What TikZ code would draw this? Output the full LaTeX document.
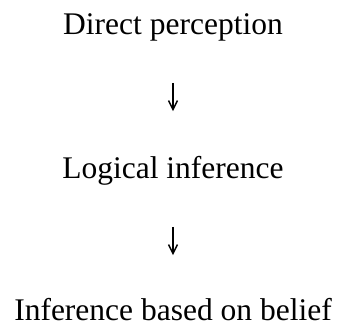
\documentclass[tikz,border=0pt]{standalone}
\usepackage{fontspec}
\setmainfont{Liberation Serif}
\usepackage{tikz}
\usetikzlibrary{arrows.meta,positioning}

\tikzset{
    step label/.style={anchor=base, inner sep=0pt, font=\fontsize{31.5}{36}\selectfont},
    down arrow/.style={-{Straight Barb[length=9pt,width=9pt]}, line width=1.4pt}
}

\begin{document}
\begin{tikzpicture}[x=1pt, y=-1pt]
        \useasboundingbox (0,0) rectangle (340,331);
        \node [step label] (direct) at (173,35) {Direct perception};
        \node [step label] (logical) at (173,179) {Logical inference};
        \node [step label] (belief) at (173,320) {Inference based on belief};
        \draw [down arrow, shorten <=41pt, shorten >=45.5pt] (direct.south -| 173,0) -- (logical.north -| 173,0);
        \draw [down arrow, shorten <=41pt, shorten >=42.5pt] (logical.south -| 173,0) -- (belief.north -| 173,0);
    \end{tikzpicture}
\end{document}
